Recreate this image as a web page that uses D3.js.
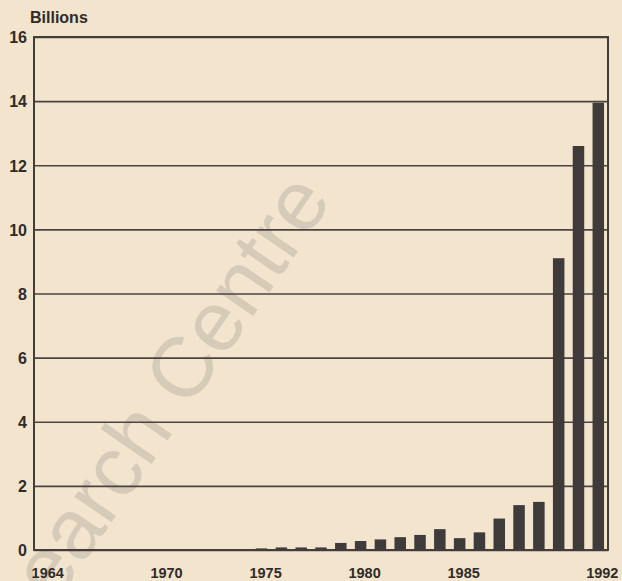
<!DOCTYPE html>
<meta charset="utf-8">
<script src="https://d3js.org/d3.v7.min.js"></script>
<style>

body {
  margin: 0;
  background: #f2e4cd;
}

svg {
  display: block;
  background: #f2e4cd;
}

.grid line {
  stroke: #4a4542;
  stroke-width: 1.6px;
}

.grid path {
  display: none;
}

.axis text {
  font: bold 16px "Liberation Sans", Arial, sans-serif;
  fill: #2f2b2a;
}

.xlab {
  font: bold 14.5px "Liberation Sans", Arial, sans-serif;
  fill: #2f2b2a;
}

.bar {
  fill: #3f3b3b;
}

.frame {
  fill: none;
  stroke: #433e3c;
  stroke-width: 2px;
}

</style>

<svg width="622" height="581"></svg>
<script>

// years shown on the axis (category domain)
var allYears = [1964, 1965, 1966, 1967, 1968, 1969, 1970, 1971, 1972, 1973, 1974,
                1975, 1976, 1977, 1978, 1979, 1980, 1981, 1982, 1983, 1984,
                1985, 1986, 1987, 1988, 1989, 1990, 1991, 1992];

// years that have a bar, and their values (billions)
var barYears  = [1975, 1976, 1977, 1978, 1979, 1980, 1981, 1982, 1983,
                 1984, 1985, 1986, 1987, 1988, 1989, 1990, 1991, 1992];
var barValues = [0.05, 0.08, 0.08, 0.08, 0.22, 0.28, 0.33, 0.4, 0.47,
                 0.65, 0.37, 0.55, 0.98, 1.4, 1.5, 9.1, 12.6, 13.95];

var xTickYears = [1964, 1970, 1975, 1980, 1985, 1992];
var yTicks = [0, 2, 4, 6, 8, 10, 12, 14, 16];

// note: "top" is taken by window.top, so plot edges get their own names
var svg = d3.select("svg"),
    plotLeft = 34, plotRight = 608, plotTop = 37, plotBottom = 550;

var x = d3.scaleBand()
    .domain(allYears)
    .range([plotLeft, plotRight])
    .paddingInner(0.42)
    .paddingOuter(0.2);

var y = d3.scaleLinear()
    .domain([0, 16])
    .range([plotBottom, plotTop]);

// faint watermark of the scanned source
svg.append("text")
    .attr("transform", "translate(333,200) rotate(-55.5)")
    .attr("text-anchor", "end")
    .style("font", "85px 'Liberation Sans', Arial, sans-serif")
    .style("fill", "#b3ab9f")
    .style("fill-opacity", 0.45)
    .text("Research Centre");

// gridlines + labels
var grid = svg.append("g")
    .attr("class", "grid axis")
    .attr("transform", "translate(" + plotLeft + ",0)")
    .call(d3.axisLeft(y).tickValues(yTicks).tickSize(-(plotRight - plotLeft)).tickPadding(7).tickFormat(d3.format("d")));

grid.selectAll("text").attr("dy", "0.36em");

svg.append("rect")
    .attr("class", "frame")
    .attr("x", plotLeft)
    .attr("y", plotTop)
    .attr("width", plotRight - plotLeft)
    .attr("height", plotBottom - plotTop);

var data = barYears.map(function(d, i) { return {year: d, value: barValues[i]}; });

svg.selectAll(".bar")
    .data(data)
  .enter().append("rect")
    .attr("class", "bar")
    .attr("x", function(d) { return x(d.year); })
    .attr("width", x.bandwidth())
    .attr("y", function(d) { return y(d.value); })
    .attr("height", function(d) { return y(0) - y(d.value); });

// x labels
svg.selectAll(".xlab")
    .data(xTickYears)
  .enter().append("text")
    .attr("class", "xlab")
    .attr("text-anchor", "middle")
    .attr("x", function(d) { return x(d) + x.bandwidth() / 2 + 4; })
    .attr("y", 578)
    .text(function(d) { return d; });

svg.append("text")
    .attr("x", 30)
    .attr("y", 23)
    .style("font", "bold 16px 'Liberation Sans', Arial, sans-serif")
    .style("fill", "#2f2b2a")
    .text("Billions");

</script>
